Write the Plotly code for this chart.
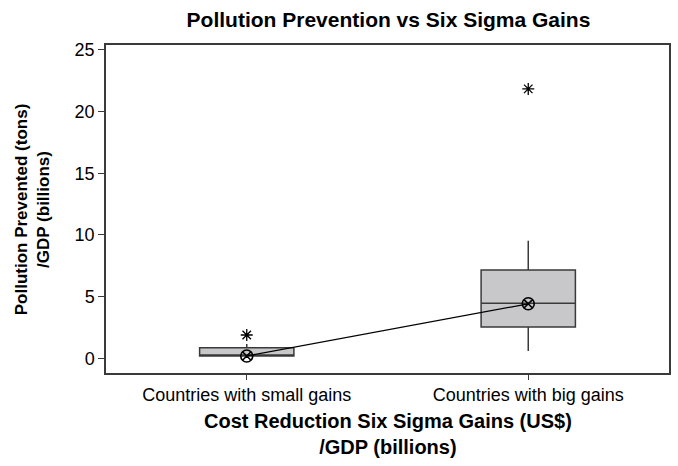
import plotly.graph_objects as go

categories = ["Countries with small gains", "Countries with big gains"]
q1 = [0.19, 2.54]
median = [0.2, 4.46]
q3 = [0.86, 7.16]
lower_fence = [0.19, 0.59]
upper_fence = [1.16, 9.54]
means = [0.19, 4.42]
outlier_x = ["Countries with small gains", "Countries with big gains"]
outlier_y = [1.89, 21.84]

FONT = "Arial, Liberation Sans, sans-serif"

fig = go.Figure()
fig.add_trace(go.Box(
    x=categories, q1=q1, median=median, q3=q3,
    lowerfence=lower_fence, upperfence=upper_fence,
    boxpoints=False, width=0.335, whiskerwidth=0,
    fillcolor="#c8c8ca", line=dict(color="#3a3a3a", width=1.5),
    showlegend=False, hoverinfo="skip",
))
fig.add_trace(go.Scatter(
    x=categories, y=means, mode="lines+markers",
    line=dict(color="black", width=1.3),
    marker=dict(symbol="circle-x-open", size=12, color="black", line=dict(width=1.6)),
    showlegend=False,
))
fig.add_trace(go.Scatter(
    x=outlier_x, y=outlier_y, mode="markers",
    marker=dict(symbol="asterisk-open", size=10, color="black", line=dict(width=1.3, color="black")),
    showlegend=False,
))

fig.update_layout(
    width=678, height=466,
    margin=dict(l=106, r=7, t=45, b=93),
    paper_bgcolor="white", plot_bgcolor="white",
    font=dict(family=FONT, color="black"),
    title=dict(text="<b>Pollution Prevention vs Six Sigma Gains</b>",
               x=(106 + 671) / 2 / 678, xanchor="center", y=1 - 20 / 466, yanchor="middle",
               font=dict(size=21, family=FONT, color="black")),
    xaxis=dict(type="category", range=[-0.5, 1.5], showline=True, mirror=True,
               linecolor="#3a3a3a", linewidth=1.5, ticks="outside", ticklen=5,
               tickcolor="#3a3a3a", tickfont=dict(size=18, family=FONT, color="black"),
               showgrid=False, zeroline=False),
    yaxis=dict(range=[-1.19, 25.4], tickvals=[0, 5, 10, 15, 20, 25], showline=True, mirror=True,
               linecolor="#3a3a3a", linewidth=1.5, ticks="outside", ticklen=6,
               tickcolor="#3a3a3a", tickfont=dict(size=18, family=FONT, color="black"),
               showgrid=False, zeroline=False),
    annotations=[
        dict(text="<b>Pollution Prevented (tons)<br>/GDP (billions)</b>", textangle=-90,
             xref="paper", yref="paper", x=(32 - 106) / 565, y=0.5,
             xanchor="center", yanchor="middle", showarrow=False,
             font=dict(size=17, family=FONT, color="black")),
        dict(text="<b>Cost Reduction Six Sigma Gains (US$)<br>/GDP (billions)</b>",
             xref="paper", yref="paper", x=0.5, y=-(434 - 373) / 328,
             xanchor="center", yanchor="middle", showarrow=False,
             font=dict(size=20, family=FONT, color="black")),
    ],
)

fig.write_html("out.html", config={"displayModeBar": False})
with open("out.html", encoding="utf-8") as f:
    html = f.read()
html = html.replace("<body>", '<body style="margin:0;padding:0;overflow:hidden">', 1)
with open("out.html", "w", encoding="utf-8") as f:
    f.write(html)
